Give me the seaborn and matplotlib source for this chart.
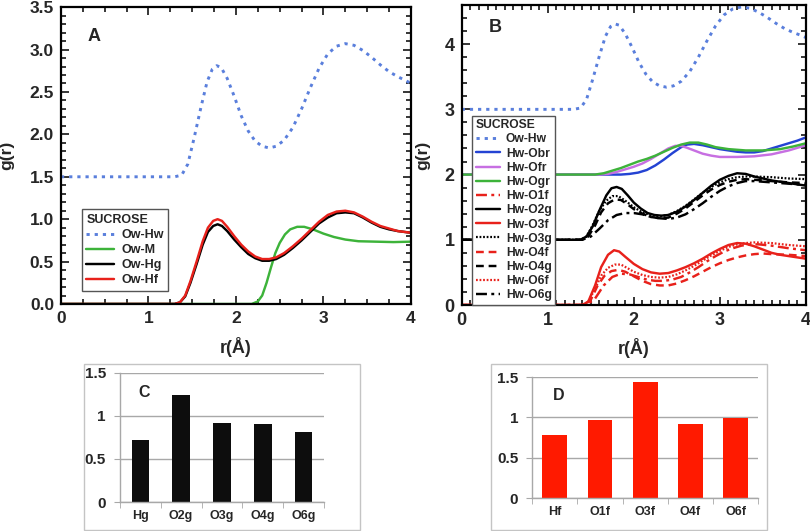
import matplotlib
matplotlib.use("Agg")
import matplotlib.pyplot as plt
from matplotlib.patches import Rectangle
from matplotlib.ticker import MultipleLocator
import seaborn as sns
import pandas as pd

# ---------------- data: panel A ----------------
a_owhw_r = [0, 1.3, 1.38, 1.45, 1.52, 1.6, 1.67, 1.73, 1.78, 1.83, 1.9, 1.98, 2.06, 2.14, 2.22, 2.3, 2.38, 2.46, 2.55, 2.65, 2.75, 2.85, 2.95, 3.05, 3.15, 3.25, 3.35, 3.45, 3.55, 3.65, 3.75, 3.85, 3.95, 4.0]
a_owhw_g = [1.5, 1.5, 1.52, 1.65, 1.95, 2.32, 2.62, 2.77, 2.81, 2.79, 2.66, 2.45, 2.22, 2.04, 1.92, 1.86, 1.84, 1.86, 1.93, 2.08, 2.3, 2.55, 2.78, 2.95, 3.04, 3.07, 3.05, 2.99, 2.91, 2.82, 2.74, 2.68, 2.63, 2.6]
a_owm_r = [0, 2.18, 2.25, 2.3, 2.35, 2.4, 2.45, 2.5, 2.56, 2.62, 2.7, 2.78, 2.88, 3.0, 3.12, 3.25, 3.4, 3.6, 3.8, 4.0]
a_owm_g = [0, 0, 0.03, 0.1, 0.25, 0.43, 0.6, 0.72, 0.82, 0.88, 0.91, 0.91, 0.88, 0.83, 0.79, 0.76, 0.74, 0.735, 0.73, 0.735]
a_h_r = [0, 1.3, 1.36, 1.42, 1.48, 1.55, 1.62, 1.68, 1.74, 1.79, 1.84, 1.9, 1.98, 2.06, 2.14, 2.22, 2.3, 2.38, 2.46, 2.55, 2.65, 2.75, 2.85, 2.95, 3.05, 3.15, 3.25, 3.35, 3.45, 3.55, 3.65, 3.75, 3.85, 4.0]
a_owhg_g = [0, 0, 0.02, 0.09, 0.25, 0.47, 0.7, 0.85, 0.92, 0.94, 0.92, 0.86, 0.76, 0.67, 0.59, 0.54, 0.51, 0.51, 0.53, 0.58, 0.66, 0.75, 0.85, 0.95, 1.02, 1.07, 1.08, 1.07, 1.02, 0.96, 0.91, 0.88, 0.86, 0.84]
a_owhf_g = [0, 0, 0.02, 0.1, 0.27, 0.5, 0.74, 0.9, 0.98, 1.0, 0.98, 0.91, 0.8, 0.7, 0.62, 0.56, 0.53, 0.53, 0.55, 0.6, 0.68, 0.77, 0.87, 0.97, 1.05, 1.09, 1.1, 1.08, 1.03, 0.97, 0.92, 0.89, 0.86, 0.84]

# ---------------- data: panel B ----------------
b_owhw_r = a_owhw_r
b_owhw_g = [3.0, 3.0, 3.02, 3.15, 3.45, 3.82, 4.12, 4.27, 4.31, 4.29, 4.16, 3.95, 3.72, 3.54, 3.42, 3.36, 3.34, 3.36, 3.43, 3.58, 3.8, 4.05, 4.28, 4.45, 4.54, 4.57, 4.55, 4.49, 4.41, 4.32, 4.24, 4.18, 4.13, 4.1]
b_obr_r = [0, 1.85, 1.95, 2.05, 2.15, 2.25, 2.35, 2.45, 2.55, 2.62, 2.7, 2.8, 2.9, 3.0, 3.1, 3.2, 3.3, 3.4, 3.5, 3.6, 3.7, 3.8, 3.9, 4.0]
b_obr_g = [2.0, 2.0, 2.01, 2.03, 2.07, 2.14, 2.23, 2.33, 2.42, 2.46, 2.47, 2.45, 2.42, 2.39, 2.37, 2.35, 2.34, 2.34, 2.36, 2.4, 2.44, 2.48, 2.52, 2.57]
b_ofr_r = [0, 1.6, 1.7, 1.8, 1.9, 2.0, 2.1, 2.2, 2.3, 2.4, 2.48, 2.55, 2.62, 2.7, 2.8, 2.9, 3.0, 3.2, 3.4, 3.6, 3.8, 4.0]
b_ofr_g = [2.0, 2.0, 2.01, 2.04, 2.08, 2.12, 2.17, 2.24, 2.32, 2.4, 2.44, 2.44, 2.41, 2.37, 2.32, 2.29, 2.27, 2.27, 2.28, 2.31, 2.37, 2.45]
b_ogr_r = [0, 1.55, 1.65, 1.75, 1.85, 1.95, 2.05, 2.15, 2.25, 2.35, 2.45, 2.55, 2.65, 2.75, 2.85, 2.95, 3.1, 3.3, 3.5, 3.7, 3.85, 4.0]
b_ogr_g = [2.0, 2.0, 2.02, 2.06, 2.1, 2.15, 2.2, 2.24, 2.29, 2.35, 2.41, 2.46, 2.49, 2.49, 2.46, 2.42, 2.39, 2.37, 2.37, 2.39, 2.43, 2.48]
b_o2g_r = [0, 1.38, 1.45, 1.52, 1.6, 1.68, 1.74, 1.8, 1.86, 1.93, 2.0, 2.08, 2.16, 2.24, 2.32, 2.4, 2.5, 2.6, 2.7, 2.8, 2.9, 3.0, 3.1, 3.2, 3.3, 3.4, 3.5, 3.6, 3.7, 3.8, 3.9, 4.0]
b_o2g_g = [1.0, 1.0, 1.05, 1.2, 1.45, 1.68, 1.79, 1.81, 1.78, 1.68, 1.57, 1.48, 1.41, 1.38, 1.37, 1.38, 1.43, 1.51, 1.61, 1.72, 1.83, 1.92, 1.98, 2.02, 2.01, 1.97, 1.94, 1.91, 1.89, 1.87, 1.85, 1.83]
b_o3g_r = [0, 1.38, 1.45, 1.52, 1.6, 1.68, 1.75, 1.82, 1.9, 2.0, 2.1, 2.2, 2.3, 2.4, 2.5, 2.6, 2.7, 2.8, 2.9, 3.0, 3.1, 3.2, 3.3, 3.4, 3.6, 3.8, 4.0]
b_o3g_g = [1.0, 1.0, 1.05, 1.22, 1.45, 1.6, 1.67, 1.67, 1.6, 1.5, 1.42, 1.38, 1.36, 1.38, 1.44, 1.52, 1.62, 1.72, 1.81, 1.88, 1.93, 1.96, 1.97, 1.97, 1.96, 1.94, 1.93]
b_o4g_r = [0, 1.4, 1.47, 1.55, 1.62, 1.7, 1.78, 1.85, 1.92, 2.0, 2.1, 2.2, 2.3, 2.4, 2.5, 2.6, 2.7, 2.8, 2.9, 3.0, 3.1, 3.2, 3.3, 3.4, 3.6, 3.8, 4.0]
b_o4g_g = [1.0, 1.0, 1.05, 1.22, 1.42, 1.56, 1.62, 1.61, 1.55, 1.47, 1.4, 1.35, 1.33, 1.34, 1.4, 1.48, 1.58, 1.68, 1.77, 1.84, 1.89, 1.92, 1.93, 1.92, 1.9, 1.88, 1.87]
b_o6g_r = [0, 1.4, 1.5, 1.6, 1.7, 1.8, 1.9, 2.0, 2.1, 2.2, 2.3, 2.4, 2.5, 2.6, 2.7, 2.8, 2.9, 3.0, 3.1, 3.2, 3.3, 3.4, 3.5, 3.6, 3.8, 4.0]
b_o6g_g = [1.0, 1.0, 1.05, 1.17, 1.3, 1.38, 1.41, 1.41, 1.39, 1.35, 1.33, 1.32, 1.34, 1.39, 1.47, 1.56, 1.66, 1.75, 1.82, 1.87, 1.9, 1.9, 1.89, 1.88, 1.86, 1.84]
b_o3f_r = [0, 1.4, 1.47, 1.55, 1.62, 1.7, 1.77, 1.83, 1.9, 2.0, 2.1, 2.2, 2.3, 2.4, 2.5, 2.6, 2.7, 2.8, 2.9, 3.0, 3.1, 3.2, 3.3, 3.4, 3.5, 3.6, 3.7, 3.8, 3.9, 4.0]
b_o3f_g = [0, 0, 0.05, 0.3, 0.58, 0.77, 0.84, 0.82, 0.74, 0.63, 0.55, 0.5, 0.48, 0.49, 0.53, 0.58, 0.64, 0.71, 0.79, 0.86, 0.92, 0.95, 0.94, 0.9, 0.85, 0.8, 0.77, 0.75, 0.73, 0.71]
b_o6f_r = [0, 1.4, 1.47, 1.55, 1.62, 1.7, 1.78, 1.85, 1.92, 2.0, 2.1, 2.2, 2.3, 2.4, 2.5, 2.6, 2.7, 2.8, 2.9, 3.0, 3.1, 3.2, 3.3, 3.4, 3.6, 3.8, 4.0]
b_o6f_g = [0, 0, 0.05, 0.25, 0.45, 0.57, 0.62, 0.62, 0.57, 0.51, 0.46, 0.43, 0.42, 0.43, 0.47, 0.53, 0.6, 0.68, 0.76, 0.83, 0.89, 0.93, 0.95, 0.96, 0.95, 0.92, 0.9]
b_o1f_r = [0, 1.45, 1.55, 1.65, 1.75, 1.85, 1.95, 2.05, 2.15, 2.25, 2.35, 2.45, 2.55, 2.65, 2.75, 2.85, 2.95, 3.05, 3.15, 3.25, 3.35, 3.45, 3.6, 3.8, 4.0]
b_o1f_g = [0, 0, 0.1, 0.3, 0.43, 0.48, 0.47, 0.43, 0.39, 0.37, 0.37, 0.39, 0.43, 0.5, 0.58, 0.67, 0.75, 0.82, 0.87, 0.91, 0.93, 0.93, 0.91, 0.87, 0.84]
b_o4f_r = [0, 1.42, 1.5, 1.58, 1.66, 1.74, 1.82, 1.9, 2.0, 2.1, 2.2, 2.3, 2.4, 2.5, 2.6, 2.7, 2.8, 2.9, 3.0, 3.1, 3.2, 3.3, 3.4, 3.5, 3.6, 3.8, 4.0]
b_o4f_g = [0, 0, 0.08, 0.3, 0.45, 0.52, 0.54, 0.51, 0.44, 0.37, 0.32, 0.3, 0.3, 0.33, 0.38, 0.44, 0.51, 0.58, 0.64, 0.69, 0.73, 0.76, 0.78, 0.79, 0.78, 0.77, 0.75]

# ---------------- data: panels C, D ----------------
c_labels = ["Hg", "O2g", "O3g", "O4g", "O6g"]
c_values = [0.72, 1.24, 0.92, 0.91, 0.81]
d_labels = ["Hf", "O1f", "O3f", "O4f", "O6f"]
d_values = [0.78, 0.97, 1.44, 0.92, 0.99]

# ---------------- style ----------------
sns.set_style("ticks")
plt.rcParams["font.family"] = ["Liberation Sans", "DejaVu Sans"]
plt.rcParams["font.weight"] = "bold"
plt.rcParams["axes.labelweight"] = "bold"

BLUE_DOT = "#5a7fdc"
BLUE = "#2443d3"
MAGENTA = "#c76fe2"
GREEN = "#3db33a"
RED = "#e8211b"
BLACK = "#000000"

DOT = (0, (1.1, 1.7))
FINEDOT = (0, (0.8, 0.8))
DASH = (0, (3.2, 2.0))
DASHDOT = (0, (4.5, 1.8, 1.2, 1.8))

LW = 1.75

fig = plt.figure(figsize=(8.1, 5.31), dpi=100)


def style_axes(ax, xminor, yminor, labelsize):
    for s in ax.spines.values():
        s.set_linewidth(1.6)
        s.set_color("black")
    ax.xaxis.set_major_locator(MultipleLocator(1))
    ax.xaxis.set_minor_locator(MultipleLocator(xminor))
    ax.yaxis.set_minor_locator(MultipleLocator(yminor))
    ax.tick_params(which="both", direction="in", top=True, right=True, width=1.3)
    ax.tick_params(which="major", length=6, labelsize=labelsize, pad=5)
    ax.tick_params(which="minor", length=3.5)
    for lab in ax.get_xticklabels() + ax.get_yticklabels():
        lab.set_fontweight("bold")


def line(ax, r, g, color, ls, label, lw=LW):
    df = pd.DataFrame({"r": r, "g": g})
    sns.lineplot(data=df, x="r", y="g", ax=ax, color=color, linestyle=ls,
                 linewidth=lw, label=label, legend=False)


# ---------------- panel A ----------------
axA = fig.add_axes([0.0753, 0.4275, 0.432, 0.559])
line(axA, a_owhw_r, a_owhw_g, BLUE_DOT, DOT, "Ow-Hw", 2.1)
line(axA, a_owm_r, a_owm_g, GREEN, "-", "Ow-M")
line(axA, a_h_r, a_owhg_g, BLACK, "-", "Ow-Hg")
line(axA, a_h_r, a_owhf_g, RED, "-", "Ow-Hf")
axA.set_xlim(0, 4)
axA.set_ylim(0, 3.5)
axA.yaxis.set_major_locator(MultipleLocator(0.5))
axA.yaxis.set_major_formatter(matplotlib.ticker.FormatStrFormatter("%.1f"))
style_axes(axA, 0.25, 0.1, 12.5)
axA.set_xlabel("r(Å)", fontsize=13, fontweight="bold")
axA.set_ylabel("g(r)", fontsize=12.5, fontweight="bold")
axA.xaxis.set_label_coords(0.5, -0.11)
axA.yaxis.set_label_coords(-0.135, 0.5)
axA.text(0.077, 0.90, "A", transform=axA.transAxes, fontsize=13, fontweight="bold",
         va="center", ha="left")
legA = axA.legend(title="SUCROSE", loc="lower left", bbox_to_anchor=(0.06, 0.045),
                  fontsize=9, title_fontproperties={"weight": "bold", "size": 9},
                  frameon=True, fancybox=False, edgecolor="#555555", framealpha=1,
                  handlelength=2.2, handletextpad=0.6, labelspacing=0.25,
                  borderpad=0.35, borderaxespad=0)
legA._legend_box.align = "left"
legA.get_frame().set_linewidth(1.0)

# ---------------- panel B ----------------
axB = fig.add_axes([0.570, 0.4256, 0.425, 0.565])
line(axB, b_owhw_r, b_owhw_g, BLUE_DOT, DOT, "Ow-Hw", 2.1)
line(axB, b_obr_r, b_obr_g, BLUE, "-", "Hw-Obr")
line(axB, b_ofr_r, b_ofr_g, MAGENTA, "-", "Hw-Ofr")
line(axB, b_ogr_r, b_ogr_g, GREEN, "-", "Hw-Ogr")
line(axB, b_o1f_r, b_o1f_g, RED, DASHDOT, "Hw-O1f")
line(axB, b_o2g_r, b_o2g_g, BLACK, "-", "Hw-O2g")
line(axB, b_o3f_r, b_o3f_g, RED, "-", "Hw-O3f")
line(axB, b_o3g_r, b_o3g_g, BLACK, FINEDOT, "Hw-O3g", 1.6)
line(axB, b_o4f_r, b_o4f_g, RED, DASH, "Hw-O4f")
line(axB, b_o4g_r, b_o4g_g, BLACK, DASH, "Hw-O4g")
line(axB, b_o6f_r, b_o6f_g, RED, FINEDOT, "Hw-O6f", 1.6)
line(axB, b_o6g_r, b_o6g_g, BLACK, DASHDOT, "Hw-O6g")
axB.set_xlim(0, 4)
axB.set_ylim(0, 4.6)
axB.yaxis.set_major_locator(MultipleLocator(1))
style_axes(axB, 0.1, 0.2, 13)
axB.set_xlabel("r(Å)", fontsize=13, fontweight="bold")
axB.set_ylabel("g(r)", fontsize=12.5, fontweight="bold")
axB.xaxis.set_label_coords(0.5, -0.11)
axB.yaxis.set_label_coords(-0.09, 0.5)
axB.text(0.08, 0.925, "B", transform=axB.transAxes, fontsize=13, fontweight="bold",
         va="center", ha="left")
legB = axB.legend(title="SUCROSE", loc="lower left", bbox_to_anchor=(0.03, 0.0),
                  fontsize=8.7, title_fontproperties={"weight": "bold", "size": 8.7},
                  frameon=True, fancybox=False, edgecolor="#555555", framealpha=1,
                  handlelength=2.0, handletextpad=0.5, labelspacing=0.18,
                  borderpad=0.3, borderaxespad=0)
legB._legend_box.align = "left"
legB.get_frame().set_linewidth(1.0)


# ---------------- panels C, D ----------------
def bar_panel(box, axrect, labels, values, color, width, letter):
    fig.add_artist(Rectangle((box[0], box[1]), box[2], box[3], transform=fig.transFigure,
                             facecolor="none", edgecolor="#c4c4c4", linewidth=1.0))
    ax = fig.add_axes(axrect)
    df = pd.DataFrame({"cat": labels, "val": values})
    sns.barplot(data=df, x="cat", y="val", ax=ax, color=color, width=width,
                saturation=1, edgecolor="none")
    ax.set_ylim(0, 1.5)
    ax.set_xlim(-0.5, len(labels) - 0.5)
    ax.yaxis.set_major_locator(MultipleLocator(0.5))
    ax.yaxis.set_major_formatter(matplotlib.ticker.FuncFormatter(
        lambda v, p: "0" if v == 0 else ("1" if v == 1 else f"{v:g}")))
    ax.grid(axis="y", color="#a8a8a8", linewidth=1.0)
    ax.set_axisbelow(True)
    for s in ["top", "right"]:
        ax.spines[s].set_visible(False)
    for s in ["left", "bottom"]:
        ax.spines[s].set_color("#a8a8a8")
        ax.spines[s].set_linewidth(1.0)
    ax.set_xticks([i - 0.5 for i in range(len(labels) + 1)], minor=True)
    ax.tick_params(axis="x", which="minor", length=4, color="#a8a8a8", direction="out")
    ax.tick_params(axis="x", which="major", length=0, labelsize=9, pad=6)
    ax.tick_params(axis="y", which="major", length=4, color="#a8a8a8", labelsize=11, pad=6)
    for lab in ax.get_xticklabels() + ax.get_yticklabels():
        lab.set_fontweight("bold")
    ax.set_xlabel("")
    ax.set_ylabel("")
    ax.text(0.09, 0.85, letter, transform=ax.transAxes, fontsize=11.5, fontweight="bold",
            va="center", ha="left")
    return ax


bar_panel((0.1037, 0.002, 0.3407, 0.3125), [0.148, 0.0546, 0.252, 0.243],
          c_labels, c_values, "#0d0d0d", 0.43, "C")
bar_panel((0.606, 0.002, 0.341, 0.3125), [0.657, 0.062, 0.279, 0.228],
          d_labels, d_values, "#ff1a00", 0.55, "D")

fig.savefig("out.png", dpi=100)
